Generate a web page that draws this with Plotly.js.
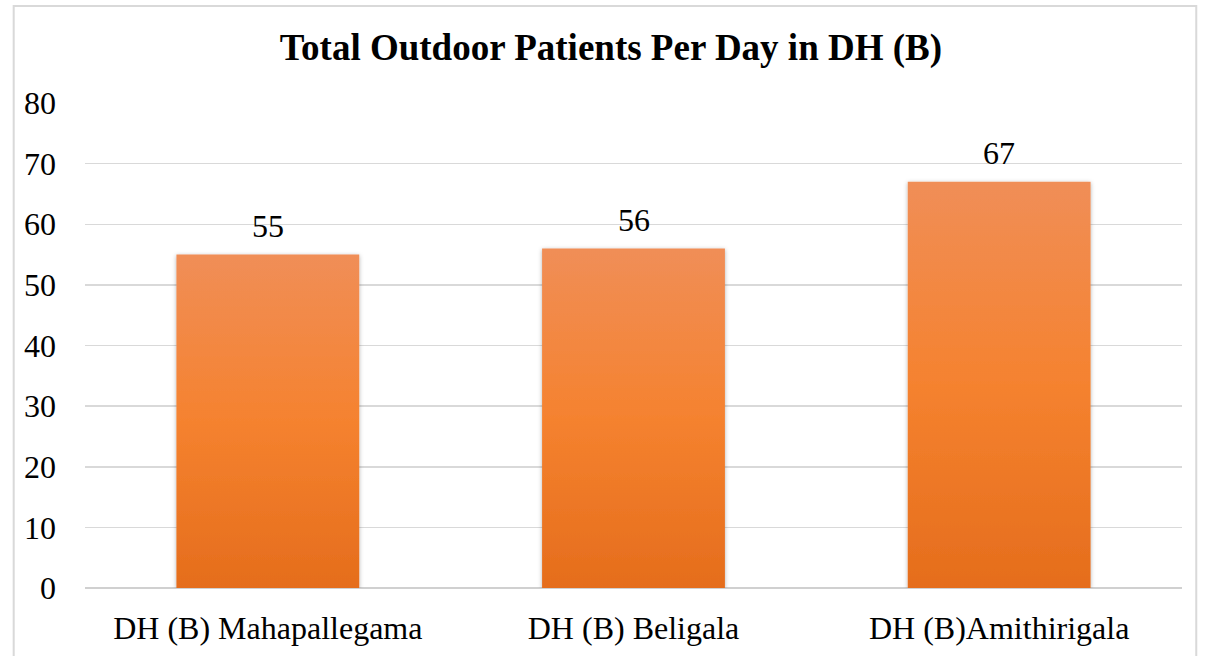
<!DOCTYPE html>
<html>
<head>
<meta charset="utf-8">
<script src="https://cdn.plot.ly/plotly-3.0.1.min.js"></script>
<style>
  html, body { margin: 0; padding: 0; background: #fff; }
  #chart { width: 1205px; height: 656px; }
</style>
</head>
<body>
<div id="chart"></div>
<script>
// Dane
const hospitals = ['DH (B) Mahapallegama', 'DH (B) Beligala', 'DH (B)Amithirigala'];
const patients = [55, 56, 67];
const yTicks = [0, 10, 20, 30, 40, 50, 60, 70, 80];

const serif = 'Liberation Serif';

const data = [{
  type: 'bar',
  x: hospitals,
  y: patients,
  width: 0.5,
  marker: { color: '#f2822f', line: { width: 0 } },
  hoverinfo: 'x+y'
}];

// Etykiety wartości nad słupkami
const labels = hospitals.map(function (h, i) {
  return {
    x: h, y: patients[i], xref: 'x', yref: 'y',
    text: String(patients[i]),
    showarrow: false,
    yanchor: 'bottom',
    yshift: 9,
    font: { family: serif, size: 32, color: '#000' }
  };
});

const layout = {
  width: 1205,
  height: 656,
  margin: { t: 103, r: 23, b: 68, l: 85 },
  paper_bgcolor: '#fff',
  plot_bgcolor: '#fff',
  title: {
    text: '<b>Total Outdoor Patients Per Day in DH (B)</b>',
    font: { family: serif, size: 37, color: '#000' },
    x: 0.507,
    xanchor: 'center',
    y: 0.928,
    yanchor: 'middle'
  },
  xaxis: {
    tickfont: { family: serif, size: 32, color: '#000' },
    showline: false,
    ticks: '',
    ticklabelstandoff: 18
  },
  yaxis: {
    range: [0, 80],
    tickvals: yTicks,
    tickfont: { family: serif, size: 32, color: '#000' },
    gridcolor: '#d9d9d9',
    gridwidth: 1.5,
    zeroline: true,
    zerolinecolor: '#d0d0d0',
    zerolinewidth: 2,
    showline: false,
    ticks: '',
    ticklabelstandoff: 28
  },
  bargap: 0.5,
  showlegend: false,
  annotations: labels,
  shapes: [{
    type: 'rect', xref: 'paper', yref: 'paper',
    x0: -0.065, x1: 1.013, y0: -0.2, y1: 1.2,
    line: { color: '#d9d9d9', width: 2 }
  }]
};

// Gradient i cień dla słupków
function styleBars() {
  const svg = document.querySelector('#chart .main-svg');
  if (!svg) return;
  let defs = svg.querySelector('defs');
  if (!document.getElementById('barGrad')) {
    const ns = 'http://www.w3.org/2000/svg';
    const grad = document.createElementNS(ns, 'linearGradient');
    grad.setAttribute('id', 'barGrad');
    grad.setAttribute('x1', '0'); grad.setAttribute('y1', '0');
    grad.setAttribute('x2', '0'); grad.setAttribute('y2', '1');
    [['0', '#f08e57'], ['0.5', '#f5822f'], ['1', '#e56d1c']].forEach(function (s) {
      const st = document.createElementNS(ns, 'stop');
      st.setAttribute('offset', s[0]);
      st.setAttribute('stop-color', s[1]);
      grad.appendChild(st);
    });
    defs.appendChild(grad);
    const f = document.createElementNS(ns, 'filter');
    f.setAttribute('id', 'barShadow');
    f.setAttribute('x', '-10%'); f.setAttribute('y', '-10%');
    f.setAttribute('width', '120%'); f.setAttribute('height', '120%');
    const ds = document.createElementNS(ns, 'feDropShadow');
    ds.setAttribute('dx', '0'); ds.setAttribute('dy', '1');
    ds.setAttribute('stdDeviation', '2');
    ds.setAttribute('flood-color', '#000');
    ds.setAttribute('flood-opacity', '0.3');
    f.appendChild(ds);
    defs.appendChild(f);
  }
  document.querySelectorAll('#chart .bars .point path').forEach(function (p) {
    p.style.fill = 'url(#barGrad)';
    p.setAttribute('filter', 'url(#barShadow)');
  });
}

Plotly.newPlot('chart', data, layout, { displayModeBar: false, staticPlot: true }).then(function (gd) {
  styleBars();
  gd.on('plotly_afterplot', styleBars);
});
</script>
</body>
</html>
